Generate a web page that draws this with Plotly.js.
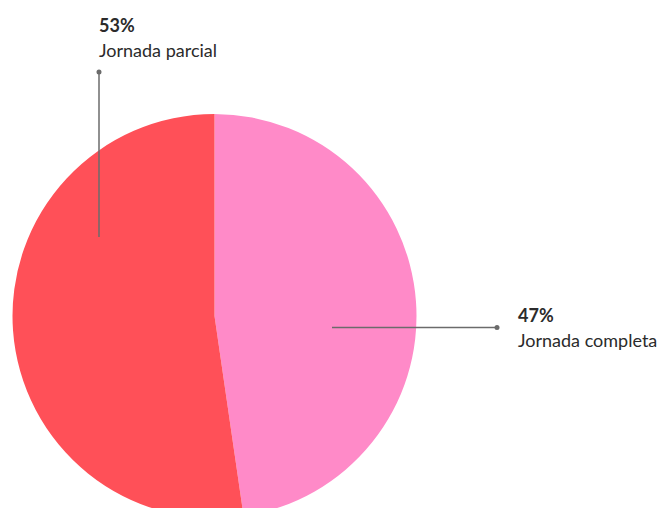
<!DOCTYPE html>
<html>
<head>
<meta charset="utf-8">
<script src="https://cdn.plot.ly/plotly-3.0.1.min.js"></script>
<style>
html,body{margin:0;padding:0;overflow:hidden;background:#fff;}
#chart{width:666px;height:540px;}
</style>
</head>
<body>
<div id="chart"></div>
<script>
// Data
var categories = ["Jornada completa", "Jornada parcial"];
var values = [47.7, 52.3];
var percentLabels = ["47%", "53%"];
var colors = ["#FF8AC8", "#FF5058"];

var W = 666, H = 540;
function px(x){ return x / W; }
function py(y){ return 1 - y / H; }

var trace = {
  type: "pie",
  labels: categories,
  values: values,
  sort: false,
  direction: "clockwise",
  rotation: 0,
  marker: {colors: colors, line: {width: 0}},
  textinfo: "none",
  hoverinfo: "label+percent",
  showlegend: false,
  domain: {x: [px(12.5), px(416.5)], y: [py(519), py(113)]}
};

var font = "Lato, 'Open Sans', sans-serif";
var txtColor = "#2b2b2b";
var lineColor = "#6b6b6b";
var fs = 18;

var annotations = [
  {text: "<b>" + percentLabels[1] + "</b>", x: px(97), y: py(25), xref: "paper", yref: "paper",
   xanchor: "left", yanchor: "middle", showarrow: false, font: {family: font, size: fs, color: txtColor}},
  {text: categories[1], x: px(97), y: py(50), xref: "paper", yref: "paper",
   xanchor: "left", yanchor: "middle", showarrow: false, font: {family: font, size: fs, color: txtColor}},
  {text: "<b>" + percentLabels[0] + "</b>", x: px(516), y: py(315), xref: "paper", yref: "paper",
   xanchor: "left", yanchor: "middle", showarrow: false, font: {family: font, size: fs, color: txtColor}},
  {text: categories[0], x: px(516), y: py(340), xref: "paper", yref: "paper",
   xanchor: "left", yanchor: "middle", showarrow: false, font: {family: font, size: fs, color: txtColor}}
];

var shapes = [
  {type: "line", xref: "paper", yref: "paper", x0: px(99), x1: px(99), y0: py(72), y1: py(237),
   line: {color: lineColor, width: 1.5}},
  {type: "circle", xref: "paper", yref: "paper", x0: px(96.5), x1: px(101.5), y0: py(69.5), y1: py(74.5),
   fillcolor: lineColor, line: {width: 0}},
  {type: "line", xref: "paper", yref: "paper", x0: px(332), x1: px(497), y0: py(327.5), y1: py(327.5),
   line: {color: lineColor, width: 1.5}},
  {type: "circle", xref: "paper", yref: "paper", x0: px(494.5), x1: px(499.5), y0: py(325), y1: py(330),
   fillcolor: lineColor, line: {width: 0}}
];

var layout = {
  width: W, height: H,
  margin: {l: 0, r: 0, t: 0, b: 0},
  paper_bgcolor: "#ffffff",
  plot_bgcolor: "#ffffff",
  showlegend: false,
  annotations: annotations,
  shapes: shapes
};

Plotly.newPlot("chart", [trace], layout, {displayModeBar: false, staticPlot: true});
</script>
</body>
</html>
